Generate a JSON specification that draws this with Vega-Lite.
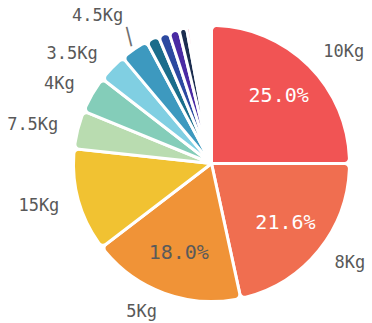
{
  "$schema": "https://vega.github.io/schema/vega-lite/v6.json",
  "width": 321,
  "height": 319,
  "autosize": {"type": "none"},
  "padding": {"left": 51, "top": 4, "right": 0, "bottom": 0},
  "background": "white",
  "config": {"view": {"stroke": null}, "text": {"font": "DejaVu Sans Mono"}},
  "data": {
    "values": [
      {"weight": "10Kg", "share": 0.250},
      {"weight": "8Kg", "share": 0.216},
      {"weight": "5Kg", "share": 0.180},
      {"weight": "15Kg", "share": 0.121},
      {"weight": "7.5Kg", "share": 0.045},
      {"weight": "4Kg", "share": 0.043},
      {"weight": "3.5Kg", "share": 0.034},
      {"weight": "4.5Kg", "share": 0.033},
      {"weight": "3Kg", "share": 0.015},
      {"weight": "2.5Kg", "share": 0.013},
      {"weight": "6Kg", "share": 0.012},
      {"weight": "2Kg", "share": 0.009},
      {"weight": "12Kg", "share": 0.004},
      {"weight": "1Kg", "share": 0.003},
      {"weight": "20Kg", "share": 0.003},
      {"weight": "6.5Kg", "share": 0.003},
      {"weight": "1.5Kg", "share": 0.003},
      {"weight": "9Kg", "share": 0.003},
      {"weight": "5.5Kg", "share": 0.0025},
      {"weight": "25Kg", "share": 0.0025},
      {"weight": "0.5Kg", "share": 0.0025},
      {"weight": "30Kg", "share": 0.0025}
    ]
  },
  "transform": [
    {"calculate": "datum.share >= 0.15 ? format(datum.share, '.1%') : ''", "as": "pct"},
    {"calculate": "indexof(['10Kg', '8Kg'], datum.weight) >= 0 ? datum.weight : ''", "as": "rightLabel"},
    {"calculate": "indexof(['5Kg', '15Kg', '7.5Kg', '4Kg', '3.5Kg'], datum.weight) >= 0 ? datum.weight : ''", "as": "leftLabel"},
    {"calculate": "datum.weight === '4.5Kg' ? datum.weight : ''", "as": "outerLabel"},
    {"calculate": "datum.weight === '4.5Kg' ? '|' : ''", "as": "leader"}
  ],
  "encoding": {
    "theta": {"field": "share", "type": "quantitative", "stack": true},
    "order": {"field": "share", "sort": "descending"},
    "detail": {"field": "weight", "type": "nominal"}
  },
  "layer": [
    {
      "mark": {"type": "arc", "outerRadius": 138, "cornerRadius": 5, "stroke": "white", "strokeWidth": 3},
      "encoding": {
        "color": {
          "field": "weight",
          "type": "nominal",
          "legend": null,
          "scale": {
            "domain": ["10Kg", "8Kg", "5Kg", "15Kg", "7.5Kg", "4Kg", "3.5Kg", "4.5Kg", "3Kg", "2.5Kg", "6Kg", "2Kg", "12Kg", "1Kg", "20Kg", "6.5Kg", "1.5Kg", "9Kg", "5.5Kg", "25Kg", "0.5Kg", "30Kg"],
            "range": ["#f15454", "#f06e50", "#f09337", "#f1c232", "#b9dcb0", "#84cdb9", "#80cfe2", "#3d99bf", "#1b6d8b", "#2c49a0", "#4a2aa3", "#1c2d4f", "#e8a0b4", "#f0b8c6", "#f0c0cc", "#f0c8d2", "#f0d0d8", "#f0d8de", "#f2dde2", "#f4e2e6", "#f6e8ea", "#f8eef0"]
          }
        }
      }
    },
    {
      "mark": {"type": "text", "radius": 95, "fontSize": 20, "baseline": "middle", "align": "center"},
      "encoding": {
        "text": {"field": "pct", "type": "nominal"},
        "color": {"condition": {"test": "datum.weight === '5Kg'", "value": "#5a5a5a"}, "value": "white"}
      }
    },
    {
      "mark": {"type": "text", "radius": 158, "fontSize": 17, "baseline": "middle", "align": "left", "color": "#595959"},
      "encoding": {"text": {"field": "rightLabel", "type": "nominal"}}
    },
    {
      "mark": {"type": "text", "radius": 158, "fontSize": 17, "baseline": "middle", "align": "right", "color": "#595959"},
      "encoding": {"text": {"field": "leftLabel", "type": "nominal"}}
    },
    {
      "mark": {"type": "text", "radius": 172, "dx": 8, "dy": -5, "fontSize": 17, "baseline": "middle", "align": "right", "color": "#595959"},
      "encoding": {"text": {"field": "outerLabel", "type": "nominal"}}
    },
    {
      "mark": {"type": "text", "radius": 153, "dx": 3, "fontSize": 20, "font": "DejaVu Sans", "baseline": "middle", "align": "center", "angle": 346, "color": "#6f6f6f"},
      "encoding": {"text": {"field": "leader", "type": "nominal"}}
    }
  ]
}
